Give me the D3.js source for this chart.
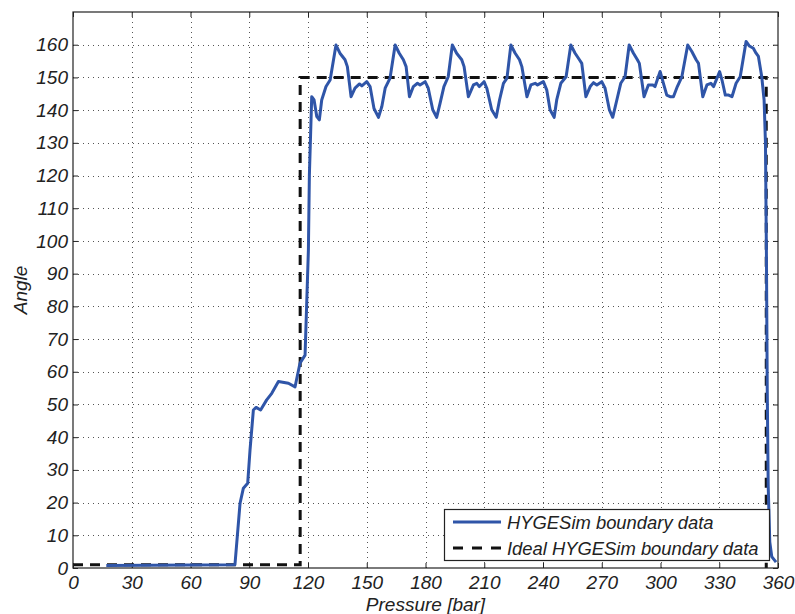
<!DOCTYPE html>
<html>
<head>
<meta charset="utf-8">
<script src="https://cdn.jsdelivr.net/npm/d3@7"></script>
<style>
  body { margin: 0; background: #fff; }
  text { font-family: "Liberation Sans", Arial, sans-serif; font-style: italic; fill: #222; }
</style>
</head>
<body>
<svg id="chart" width="795" height="614"></svg>
<script>
// data
const pressure = [17, 82.7, 85.3, 87.0, 89.2, 90.4, 92.1, 93.5, 95.8, 98.9, 101.5, 104.9, 110.0, 113.4, 115.9, 118.5,
  120.2, 120.7, 121.9, 123.1, 124.5, 125.8, 127.0, 129.2, 131.3,
  134.3, 136.3, 138.9, 140.1, 142.0, 144.0, 146.3, 147.5, 150.0, 151.7, 153.7, 156.0, 157.7, 159.4, 161.9,
  164.5, 166.6, 168.7, 170.1, 171.8, 173.8, 175.9, 177.2, 179.8, 181.4, 183.7, 185.7, 187.4, 189.4, 191.6,
  193.7, 195.9, 198.5, 199.7, 201.9, 204.5, 206.2, 207.5, 209.9, 211.3, 213.8, 216.1, 217.8, 219.8, 221.6,
  223.6, 225.8, 228.0, 229.2, 231.8, 233.8, 236.0, 237.2, 240.2, 241.9, 243.6, 245.7, 247.0, 249.1, 251.8,
  254.2, 256.4, 258.6, 259.8, 261.9, 264.1, 265.8, 267.5, 270.0, 271.7, 273.9, 275.6, 277.7, 279.7, 281.9,
  284.0, 286.2, 288.2, 289.2, 291.6, 293.8, 296.1, 297.2, 299.8, 301.5, 303.2, 304.9, 306.6, 308.6, 310.9,
  313.9, 316.0, 318.2, 319.4, 321.6, 323.7, 325.7, 327.1, 330.2, 331.4, 333.1, 334.8, 336.5, 338.6, 340.7,
  343.7, 345.4, 347.4, 348.8, 350.0, 351.7, 352.9, 353.6, 354.1, 354.5, 355.0, 355.8, 356.8, 359.0];
const angle = [0.8, 1.0, 19.8, 24.4, 25.9, 36.1, 48.3, 49.1, 48.3, 51.4, 53.4, 57.0, 56.5, 55.4, 62.6, 65.1,
  97.2, 120, 144.1, 143.1, 138.0, 137.0, 143.1, 147.2, 149.2,
  159.9, 157.4, 155.4, 153.3, 144.1, 146.7, 148.0, 147.4, 148.7, 147.2, 140.5, 137.8, 141.1, 146.7, 149.8,
  159.9, 157.4, 155.4, 153.3, 144.1, 147.2, 148.2, 147.7, 148.7, 146.7, 140.1, 137.8, 142.0, 147.2, 150.2,
  159.9, 157.4, 155.4, 153.3, 144.1, 147.7, 148.2, 147.2, 148.7, 146.7, 140.1, 137.8, 143.1, 148.2, 149.8,
  159.9, 157.4, 155.4, 153.3, 144.1, 147.7, 148.2, 147.7, 148.7, 146.2, 140.1, 137.8, 143.1, 148.2, 150.2,
  159.9, 157.4, 155.4, 154.3, 144.1, 147.2, 148.4, 147.7, 148.7, 146.7, 140.1, 137.8, 143.1, 148.2, 150.2,
  159.9, 157.4, 155.4, 154.3, 144.1, 147.7, 147.7, 147.2, 151.8, 148.2, 144.6, 144.1, 144.1, 147.2, 150.2,
  159.9, 157.9, 155.4, 154.3, 144.1, 147.7, 148.2, 147.2, 151.8, 149.2, 144.6, 144.6, 144.1, 148.2, 150.2,
  161.0, 159.6, 158.9, 157.4, 156.4, 150.2, 143.1, 130, 95, 55, 25, 8, 3.5, 1.8];
const idealPressure = [0, 116, 116, 354, 354];
const idealAngle = [1, 1, 150, 150, 0];
const xTicks = [0, 30, 60, 90, 120, 150, 180, 210, 240, 270, 300, 330, 360];
const yTicks = [0, 10, 20, 30, 40, 50, 60, 70, 80, 90, 100, 110, 120, 130, 140, 150, 160];
const seriesNames = ["HYGESim boundary data", "Ideal HYGESim boundary data"];

const width = 795, height = 614;
const margin = { top: 12, right: 17, bottom: 46, left: 73 };
const blue = "#2f55a8";
const fs = 19;

const svg = d3.select("#chart");
const x = d3.scaleLinear().domain([0, 360]).range([margin.left, width - margin.right]);
const y = d3.scaleLinear().domain([0, 170]).range([height - margin.bottom, margin.top]);

// grid
const grid = svg.append("g").attr("stroke", "#555").attr("stroke-width", 1).attr("stroke-dasharray", "1,4");
grid.selectAll(".gx").data(xTicks.slice(1, -1)).enter().append("line")
  .attr("x1", d => Math.round(x(d)) + 0.5).attr("x2", d => Math.round(x(d)) + 0.5)
  .attr("y1", y(170)).attr("y2", y(0));
grid.selectAll(".gy").data(yTicks.slice(1)).enter().append("line")
  .attr("y1", d => Math.round(y(d)) + 0.5).attr("y2", d => Math.round(y(d)) + 0.5)
  .attr("x1", x(0)).attr("x2", x(360));

// axes, matlab style ticks inward on all four sides
const tk = 5;
const axB = svg.append("g").attr("transform", `translate(0,${y(0)})`)
  .call(d3.axisBottom(x).tickValues(xTicks).tickSizeInner(-tk).tickSizeOuter(0).tickPadding(8));
const axT = svg.append("g").attr("transform", `translate(0,${y(170)})`)
  .call(d3.axisTop(x).tickValues(xTicks).tickSizeInner(-tk).tickSizeOuter(0).tickFormat(""));
const axL = svg.append("g").attr("transform", `translate(${x(0)},0)`)
  .call(d3.axisLeft(y).tickValues(yTicks).tickSizeInner(-tk).tickSizeOuter(0).tickPadding(5));
const axR = svg.append("g").attr("transform", `translate(${x(360)},0)`)
  .call(d3.axisRight(y).tickValues(yTicks).tickSizeInner(-tk).tickSizeOuter(0).tickFormat(""));
[axB, axT, axL, axR].forEach(a => {
  a.select(".domain").remove();
  a.selectAll("line").attr("stroke", "#222");
  a.selectAll("text").attr("font-size", fs).attr("font-family", null).attr("fill", "#222");
});

// series
const blueData = pressure.map((p, i) => [p, angle[i]]);
const idealData = idealPressure.map((p, i) => [p, idealAngle[i]]);
const line = d3.line().x(d => x(d[0])).y(d => y(d[1]));

svg.append("path").datum(idealData)
  .attr("fill", "none").attr("stroke", "#111").attr("stroke-width", 3)
  .attr("stroke-dasharray", "10,7").attr("d", line);
svg.append("path").datum(blueData)
  .attr("fill", "none").attr("stroke", blue).attr("stroke-width", 3)
  .attr("stroke-linejoin", "round").attr("d", line);

// box
svg.append("rect").attr("x", x(0)).attr("y", y(170))
  .attr("width", x(360) - x(0)).attr("height", y(0) - y(170))
  .attr("fill", "none").attr("stroke", "#222").attr("stroke-width", 1.2);

// legend
const lg = svg.append("g");
lg.append("rect").attr("x", 444.5).attr("y", 509.5).attr("width", 325).attr("height", 51)
  .attr("fill", "#fff").attr("stroke", "#222").attr("stroke-width", 1.2);
seriesNames.forEach((name, i) => {
  const yy = 522 + i * 26;
  lg.append("line").attr("x1", 453).attr("x2", 501).attr("y1", yy).attr("y2", yy)
    .attr("stroke", i === 0 ? blue : "#111").attr("stroke-width", 3)
    .attr("stroke-dasharray", i === 0 ? null : "10,9");
  lg.append("text").attr("x", 507).attr("y", yy + 7).attr("font-size", 18.4).text(name);
});

// axis titles
svg.append("text").attr("x", (x(0) + x(360)) / 2).attr("y", 611)
  .attr("text-anchor", "middle").attr("font-size", fs).text("Pressure [bar]");
svg.append("text").attr("transform", `translate(27,${(y(0) + y(170)) / 2}) rotate(-90)`)
  .attr("text-anchor", "middle").attr("font-size", fs).text("Angle");
</script>
</body>
</html>
